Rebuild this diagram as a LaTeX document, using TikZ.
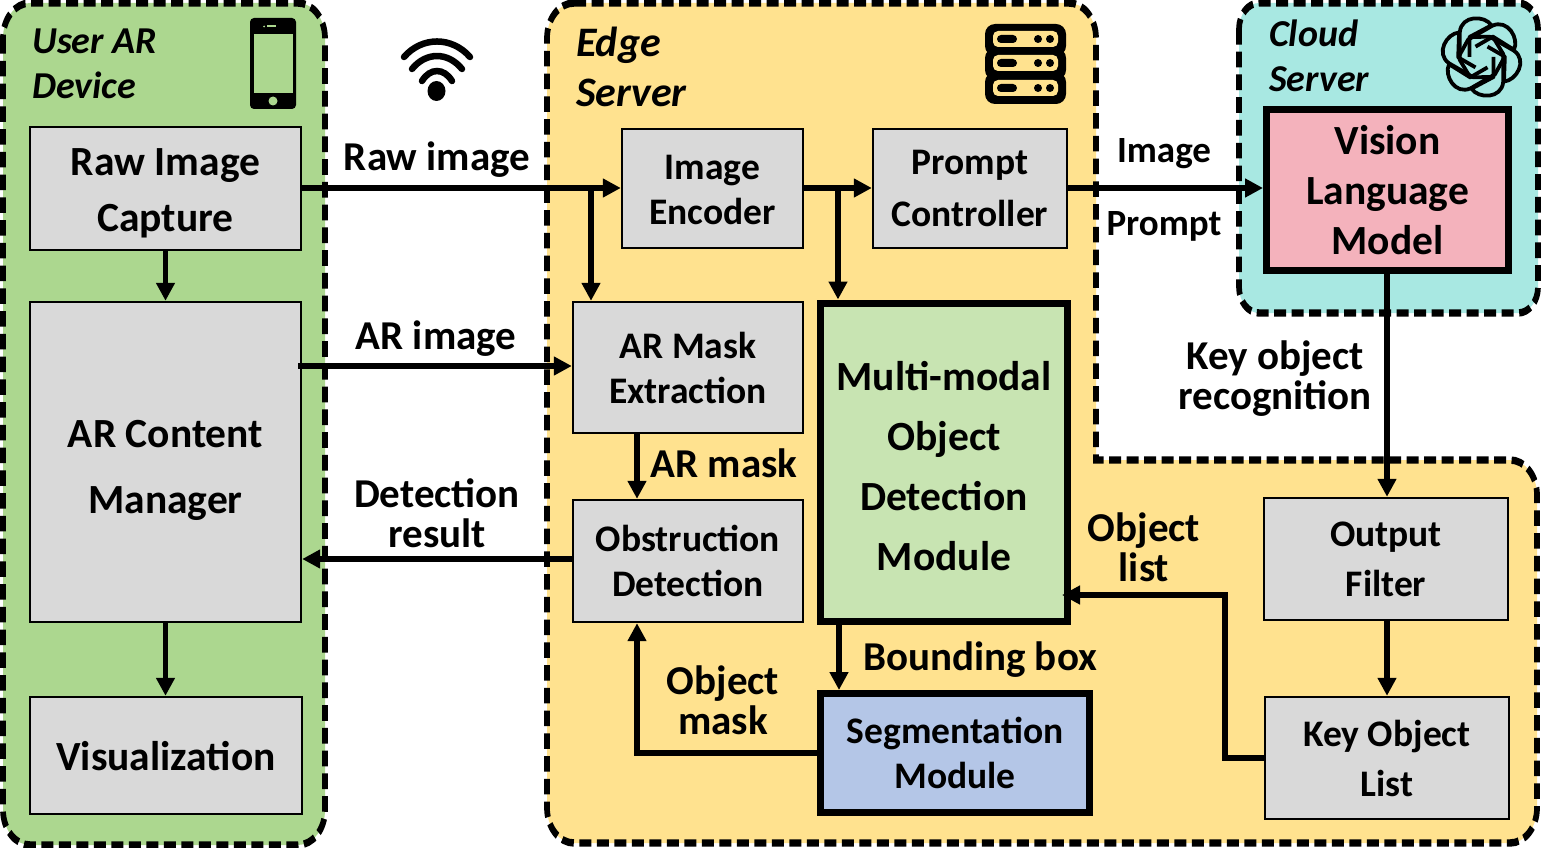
\documentclass[tikz,border=0pt]{standalone}
\usepackage{fontspec}
\setmainfont{Carlito}
\usetikzlibrary{arrows.meta,calc}
\definecolor{greenbg}{HTML}{ACD78F}
\definecolor{edgebg}{HTML}{FFE28F}
\definecolor{cloudbg}{HTML}{A8E8E2}
\definecolor{boxgray}{HTML}{D9D9D9}
\definecolor{mmgreen}{HTML}{C8E4B2}
\definecolor{segblue}{HTML}{B4C6E7}
\definecolor{vlmpink}{HTML}{F4B2BC}
\newcommand{\tf}[1]{\rule{0pt}{#1pt}}
\tikzset{
  x=1pt,y=-1pt,
  region/.style={line width=5.7pt,dash pattern=on 12pt off 5.5pt,rounded corners=27pt},
  graybox/.style={draw=black,fill=boxgray,line width=2.4pt,align=center,inner sep=0pt},
  thickbox/.style={draw=black,line width=7pt,align=center,inner sep=0pt},
  lab/.style={align=center,inner sep=0pt},
  title/.style={align=left,inner sep=0pt,anchor=west},
  conn/.style={line width=5.5pt,-{Triangle[length=18pt,width=18pt]}},
  fs/.code 2 args={\pgfkeysalso{font=\bfseries\fontsize{#1}{#2}\selectfont}},
  fi/.code 2 args={\pgfkeysalso{font=\bfseries\itshape\fontsize{#1}{#2}\selectfont}},
}
\begin{document}
\begin{tikzpicture}
\useasboundingbox (0,0) rectangle (1541,848);
% regions (drawn stretched vertically, as the reference's dashes are)
\begin{scope}[transform canvas={yscale=1.3},y=-0.76923pt]
\draw[region,fill=greenbg] (3,3) rectangle (325,845);
\draw[region,fill=edgebg] (547,3) -- (1096,3) [sharp corners] -- (1096,460) [rounded corners=27pt] -- (1537,460) -- (1537,843) -- (547,843) -- cycle;
\draw[region,rounded corners=20pt,fill=cloudbg] (1239,3) rectangle (1538,313);
\end{scope}
% boxes
\node[graybox,fs={41.5}{56},minimum width=271pt,minimum height=123pt] (raw) at (165.5,188.5) {\tf{36}Raw Image\\Capture};
\node[graybox,fs={41.5}{66},minimum width=271pt,minimum height=320pt] (arc) at (165.5,462) {\tf{44}AR Content\\Manager};
\node[graybox,fs={41.5}{48},minimum width=272pt,minimum height=117pt] (vis) at (166,755.5) {\tf{30}Visualization};
\node[graybox,fs={37.5}{45},minimum width=181pt,minimum height=119pt] (enc) at (712.5,188.5) {\tf{27}Image\\Encoder};
\node[graybox,fs={37.5}{52},minimum width=194pt,minimum height=119pt] (prm) at (970,188.5) {Prompt\\Controller};
\node[graybox,fs={37.5}{45},minimum width=230pt,minimum height=131pt] (mask) at (688,367.5) {AR Mask\\Extraction};
\node[graybox,fs={37.5}{45},minimum width=230pt,minimum height=122pt] (obs) at (688,561) {Obstruction\\Detection};
\node[thickbox,fill=mmgreen,fs={41.5}{60},minimum width=247pt,minimum height=318pt] (mm) at (944,462) {\tf{38}Multi-modal\\Object\\Detection\\Module};
\node[thickbox,fill=segblue,fs={37.5}{45},minimum width=269pt,minimum height=119pt] (seg) at (955,753) {Segmentation\\Module};
\node[thickbox,fill=vlmpink,fs={41.5}{50},minimum width=242pt,minimum height=161pt] (vlm) at (1387.5,190) {Vision\\Language\\Model};
\node[graybox,fs={37.5}{50},minimum width=244pt,minimum height=122pt] (out) at (1386,559) {Output\\Filter};
\node[graybox,fs={37.5}{50},minimum width=244pt,minimum height=122pt] (key) at (1387,758) {Key Object\\List};
% connector helper coordinates
\coordinate (rawy) at (0,188);
\coordinate (b1) at (591,188);
\coordinate (b2) at (838,188);
\coordinate (ary) at (0,366);
\coordinate (arstart) at (298,366);
\coordinate (dety) at (0,559);
\coordinate (mx) at (637,0);
\coordinate (sx) at (839,0);
\coordinate (vx) at (1387,0);
\coordinate (kx) at (1225,0);
\coordinate (ky) at (0,595);
\coordinate (mmin) at (1062,595);
% connectors
\draw[conn] (raw.east |- rawy) -- (enc.west |- rawy);
\draw[conn] (b1) -- (b1 |- mask.north);
\draw[conn] (enc.east |- rawy) -- (prm.west |- rawy);
\draw[conn] (b2) -- (b2 |- mm.north);
\draw[conn] (prm.east |- rawy) -- (vlm.west |- rawy);
\draw[conn] (raw.south) -- (raw.south |- arc.north);
\draw[conn] (arc.south) -- (arc.south |- vis.north);
\draw[conn] (arstart) -- (mask.west |- ary);
\draw[conn] (obs.west |- dety) -- (arc.east |- dety);
\draw[conn] (mx |- mask.south) -- (mx |- obs.north);
\draw[conn] (sx |- mm.south) -- (sx |- seg.north);
\draw[conn] (seg.west) -- (mx |- seg.west) -- (mx |- obs.south);
\draw[conn] (vx |- vlm.south) -- (vx |- out.north);
\draw[conn] (vx |- out.south) -- (vx |- key.north);
\draw[conn] (key.west) -- (kx |- key.west) -- (kx |- ky) -- (mmin);
% labels
\node[lab,fs={41}{40}] (l1) at (437,160) {Raw image};
\node[lab,fs={41}{40}] (l2) at (436,339) {AR image};
\node[lab,fs={41}{40}] (l3) at (437,513) {Detection\\result};
\node[lab,fs={41}{40}] (l4) at (724,463) {AR mask};
\node[lab,fs={41}{40}] (l5) at (723,700) {Object\\mask};
\node[lab,fs={41}{40}] (l6) at (980,660) {Bounding box};
\node[lab,fs={41}{40}] (l7) at (1144,547) {Object\\list};
\node[lab,fs={41}{40}] (l8) at (1275,379) {Key object\\recognition};
\node[lab,fs={37}{36}] (l9) at (1164,154) {Image};
\node[lab,fs={37}{36}] (l10) at (1164,226) {Prompt};
% titles
\node[title,fi={38}{45}] (t1) at (32,64) {User AR\\Device};
\node[title,fi={42}{50}] (t2) at (576,67) {Edge\\Server};
\node[title,fi={38}{45}] (t3) at (1269,56) {Cloud\\Server};
% phone
\fill[rounded corners=4pt] (250,18) rectangle (296,109);
\fill[greenbg] (254,34) rectangle (293,93);
\fill[greenbg] (273,101) circle (4.5);
\fill[greenbg] (267,25.5) rectangle (276,27.5);
\fill[greenbg] (264,26.5) circle (1);
% wifi
\begin{scope}[line width=6.5pt,line cap=round]
\draw (404,57) .. controls (422,36.3) and (452,36.3) .. (470,57);
\draw (412,69) .. controls (426,51.7) and (448,51.7) .. (462,69);
\draw (422,81) .. controls (430,67.7) and (444,67.7) .. (452,81);
\end{scope}
\fill (436.5,91) ellipse (9 and 10);
% server
\foreach \t in {24,48,72}{
  \fill[rounded corners=10pt] (985,\t) rectangle (1066,\t+32);
}
\foreach \c in {39,63,88}{
  \fill[edgebg,rounded corners=5pt] (993,\c-8) rectangle (1058,\c+8);
  \fill[rounded corners=4pt] (997,\c-4) rectangle (1017,\c+4);
  \fill (1038,\c) circle (4);
  \fill (1050,\c) circle (4);
}
% logo
\begin{scope}[shift={(1481.5,57)},line width=3.8pt,line join=round]
\foreach \a in {0,60,...,300}{
  \draw[rotate=\a] (-12,0) -- (-12,-20) -- (10,-31.7) .. controls (3,-42) and (-20,-42) .. (-21.7,-25) -- (-21.7,3) -- (-11.5,20);
}
\end{scope}
\end{tikzpicture}
\end{document}
